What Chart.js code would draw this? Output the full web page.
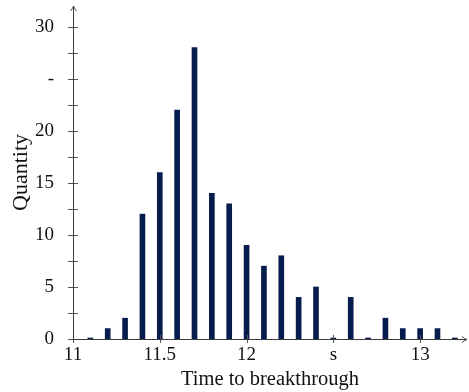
<!DOCTYPE html>
<html>
<head>
<meta charset="utf-8">
<script src="https://cdn.jsdelivr.net/npm/chart.js@4"></script>
<style>
html,body{margin:0;padding:0;background:#fff;}
#wrap{width:469px;height:392px;position:relative;}
</style>
</head>
<body>
<div id="wrap"><canvas id="c" width="469" height="392"></canvas></div>
<script>
// Data
const times = [11.1, 11.2, 11.3, 11.4, 11.5, 11.6, 11.7, 11.8, 11.9, 12.0, 12.1, 12.2, 12.3, 12.4, 12.5, 12.6, 12.7, 12.8, 12.9, 13.0, 13.1, 13.2];
const quantities = [0, 1, 2, 12, 16, 22, 28, 14, 13, 9, 7, 8, 4, 5, 0, 4, 0, 2, 1, 1, 1, 0];
const xTickValues = [11, 11.5, 12, 12.5, 13];
const xTickLabels = ['11', '11.5', '12', 's', '13'];
const yTickValues = [0, 5, 10, 15, 20, 25, 30];
const yTickLabels = ['0', '5', '10', '15', '20', '-', '30'];
const xTitle = 'Time to breakthrough';
const yTitle = 'Quantity';

const FONT = '"Liberation Serif", "DejaVu Serif", serif';

const axesPlugin = {
  id: 'texAxes',
  afterDatasetsDraw(chart) {
    const ctx = chart.ctx;
    const xs = chart.scales.x, ys = chart.scales.y;
    const x0 = xs.getPixelForValue(xs.min), y0 = ys.getPixelForValue(0);
    const xr = chart.chartArea.right, yt = chart.chartArea.top;
    ctx.save();
    ctx.strokeStyle = '#555';
    ctx.lineWidth = 1;
    ys.ticks.forEach(t => {
      const py = Math.round(ys.getPixelForValue(t.value)) + 0.5;
      ctx.beginPath(); ctx.moveTo(x0 - 5, py); ctx.lineTo(x0 + 5, py); ctx.stroke();
    });
    xs.ticks.forEach(t => {
      const px = Math.round(xs.getPixelForValue(t.value)) + 0.5;
      ctx.beginPath(); ctx.moveTo(px, y0 - 4); ctx.lineTo(px, y0 + 4); ctx.stroke();
    });
    ctx.strokeStyle = '#3a3a3a';
    const ax = Math.round(x0) + 0.5, ay = Math.round(y0) + 0.5;
    ctx.beginPath(); ctx.moveTo(ax, ay); ctx.lineTo(xr, ay); ctx.stroke();
    ctx.beginPath(); ctx.moveTo(ax, ay); ctx.lineTo(ax, yt); ctx.stroke();
    ctx.lineWidth = 0.9;
    ctx.beginPath();
    ctx.moveTo(xr - 5, ay - 3); ctx.quadraticCurveTo(xr - 2, ay - 0.5, xr, ay);
    ctx.quadraticCurveTo(xr - 2, ay + 0.5, xr - 5, ay + 3); ctx.stroke();
    ctx.beginPath();
    ctx.moveTo(ax - 3, yt + 5); ctx.quadraticCurveTo(ax - 0.5, yt + 2, ax, yt);
    ctx.quadraticCurveTo(ax + 0.5, yt + 2, ax + 3, yt + 5); ctx.stroke();
    ctx.restore();
  }
};

new Chart(document.getElementById('c'), {
  type: 'bar',
  data: {
    datasets: [{
      data: times.map((t, i) => ({ x: t, y: quantities[i] })),
      backgroundColor: '#061c4d',
      borderWidth: 0,
      barThickness: 5,
      minBarLength: 1
    }]
  },
  options: {
    responsive: false,
    animation: false,
    devicePixelRatio: 1,
    layout: { padding: { top: 6, right: 2, left: 0, bottom: 0 } },
    plugins: { legend: { display: false }, tooltip: { enabled: false } },
    scales: {
      x: {
        type: 'linear',
        offset: false,
        min: 11, max: 13.27,
        afterFit(s) { s.height = 53; s.paddingLeft = 0; s.paddingRight = 0; },
        afterBuildTicks(s) { s.ticks = xTickValues.map(v => ({ value: v })); },
        grid: { display: false },
        border: { display: false },
        ticks: {
          padding: -3,
          color: '#111',
          font: { family: FONT, size: 19 },
          maxRotation: 0,
          autoSkip: false,
          callback: v => { const i = xTickValues.indexOf(v); return i >= 0 ? xTickLabels[i] : ''; }
        },
        title: {
          display: true, text: xTitle, color: '#111',
          font: { family: FONT, size: 20.5 }, padding: { top: 0, bottom: 0 }
        }
      },
      y: {
        min: 0, max: 32,
        afterFit(s) { s.width = 73; s.paddingTop = 0; s.paddingBottom = 0; },
        afterBuildTicks(s) {
          const arr = [];
          for (let k = 0; k < yTickValues.length; k++) {
            arr.push({ value: yTickValues[k] });
            if (k < yTickValues.length - 1) arr.push({ value: (yTickValues[k] + yTickValues[k + 1]) / 2 });
          }
          s.ticks = arr;
        },
        grid: { display: false },
        border: { display: false },
        ticks: {
          padding: 11,
          color: '#111',
          autoSkip: false,
          font: { family: FONT, size: 19 },
          callback: v => { const i = yTickValues.indexOf(v); return i >= 0 ? yTickLabels[i] : ''; }
        },
        title: {
          display: true, text: yTitle, color: '#111',
          font: { family: FONT, size: 22 }, padding: { top: 8, bottom: 0 }
        }
      }
    }
  },
  plugins: [axesPlugin]
});
</script>
</body>
</html>
